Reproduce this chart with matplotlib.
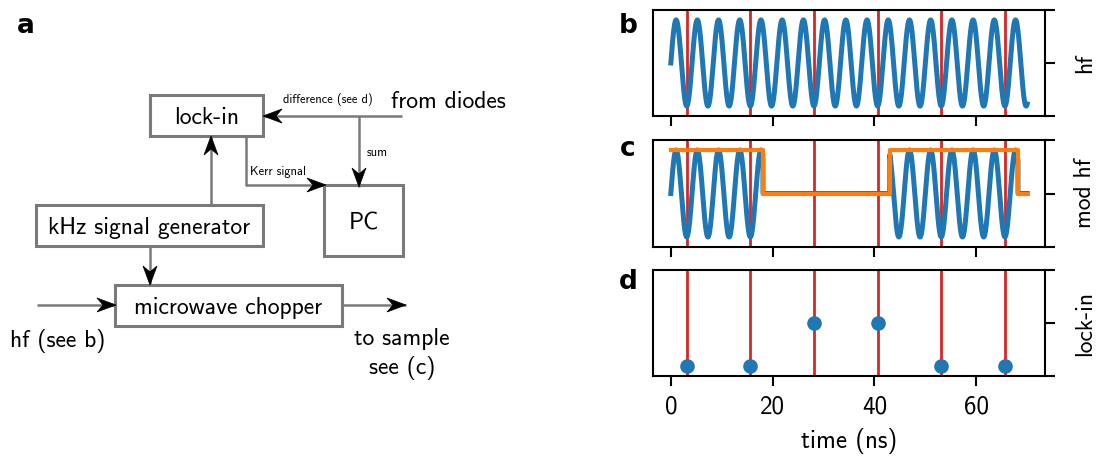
import numpy as np
import matplotlib.pyplot as plt
from matplotlib.patches import Rectangle, Polygon

plt.rcParams['font.family'] = ['cmss10', 'DejaVu Sans']
plt.rcParams['axes.unicode_minus'] = False

# carrier / chopper / lock-in data (ns)
t_end = 70.0
hf_period = 4.1667
sample_times = [3.125, 15.625, 28.125, 40.625, 53.125, 65.625]
lockin_values = [-1, -1, 0, 0, -1, -1]
gate_edges = [0.0, 18.1, 43.0, 68.2, 70.2]
gate_levels = [1, 0, 1, 0]
xticks = [0, 20, 40, 60]
ylim = 1.23

t = np.linspace(0, t_end, 3000)
hf = np.sin(2 * np.pi * t / hf_period)
idx = np.clip(np.searchsorted(gate_edges, t, side='right') - 1, 0, len(gate_levels) - 1)
gate = np.array(gate_levels)[idx]
mod_hf = hf * gate

W, H = 1104, 459
fig = plt.figure(figsize=(W / 100, H / 100), dpi=100)

# ---- panel a: block diagram, drawn in pixel coordinates
ax0 = fig.add_axes([0, 0, 1, 1])
ax0.set_xlim(0, W)
ax0.set_ylim(H, 0)
ax0.axis('off')

gray = '#7a7a7a'
fs = 17

boxes = [('lock-in', 150, 95, 263, 136),
         ('kHz signal generator', 36, 205, 263, 246),
         ('PC', 324, 185, 403, 256),
         ('microwave chopper', 115, 285, 342, 326)]
for label, x0, y0, x1, y1 in boxes:
    ax0.add_patch(Rectangle((x0, y0), x1 - x0, y1 - y0, fill=False, ec=gray, lw=2.2))
    ax0.text((x0 + x1) / 2, (y0 + y1) / 2, label, ha='center', va='center_baseline', fontsize=fs)


def arrow(pts):
    pts = np.array(pts, dtype=float)
    ax0.plot(pts[:, 0], pts[:, 1], color=gray, lw=1.8, solid_capstyle='butt')
    tip = pts[-1]
    u = tip - pts[-2]
    u /= np.hypot(*u)
    p = np.array([-u[1], u[0]])
    L, hw, notch = 19, 7, 6
    back = tip - L * u
    ax0.add_patch(Polygon([tip, back + hw * p, tip - (L - notch) * u, back - hw * p],
                          closed=True, fc='black', ec='black', lw=0.5, zorder=3))


arrow([(402, 116), (263, 116)])
arrow([(359, 116), (359, 187)])
arrow([(246, 136), (246, 185), (326, 185)])
arrow([(211, 205), (211, 136)])
arrow([(150, 246), (150, 285)])
arrow([(37, 305), (116, 305)])
arrow([(342, 305), (406, 305)])

ax0.text(25.5, 33, 'a', fontsize=19, fontweight='bold', family='DejaVu Sans', ha='center', va='baseline')
ax0.text(391, 100, 'from diodes', fontsize=fs, ha='left', va='center_baseline')
ax0.text(283, 98, 'difference (see d)', fontsize=9, ha='left', va='center_baseline')
ax0.text(367, 151, 'sum', fontsize=9, ha='left', va='center_baseline')
ax0.text(250, 171, 'Kerr signal', fontsize=9, ha='left', va='center_baseline')
ax0.text(10, 338, 'hf (see b)', fontsize=fs, ha='left', va='center_baseline')
ax0.text(402, 354, 'to sample\nsee (c)', fontsize=fs, ha='center', va='center',
         multialignment='center', linespacing=1.35)

# ---- panels b, c, d
left, right = 653, 1045
rows = [(10, 116), (140, 247), (270, 376)]
axes = []
for top, bot in rows:
    ax = fig.add_axes([left / W, 1 - bot / H, (right - left) / W, (bot - top) / H])
    axes.append(ax)
ax_b, ax_c, ax_d = axes

for ax in axes:
    for x in sample_times:
        ax.axvline(x, color='tab:red', lw=2, zorder=1)

ax_b.plot(t, hf, color='tab:blue', lw=3.6, zorder=2)
ax_c.plot(t, mod_hf, color='tab:blue', lw=3.6, zorder=2)
ax_c.step(gate_edges, gate_levels + [gate_levels[-1]], where='post', color='tab:orange', lw=3, zorder=3)
ax_d.plot(sample_times, lockin_values, 'o', color='tab:blue', ms=9.5, zorder=3)

ylabels = ['hf', 'mod hf', 'lock-in']
letters = [('b', 33), ('c', 156), ('d', 289)]
for ax, yl, (let, yb) in zip(axes, ylabels, letters):
    ax.set_xlim(-3.5, 73.5)
    ax.set_ylim(-ylim, ylim)
    ax.set_xticks(xticks)
    ax.set_yticks([-ylim, 0, ylim])
    ax.tick_params(axis='both', direction='out', length=7, width=1.5, labelsize=18, pad=7)
    ax.tick_params(axis='y', left=False, right=True, labelleft=False, labelright=False)
    ax.yaxis.set_label_position('right')
    ax.set_ylabel(yl, fontsize=fs, labelpad=14)
    for s in ax.spines.values():
        s.set_linewidth(1.5)
    ax0.text(628, yb, let, fontsize=19, fontweight='bold', family='DejaVu Sans', ha='center', va='baseline')

ax_b.tick_params(axis='x', labelbottom=False)
ax_c.tick_params(axis='x', labelbottom=False)
ax_d.set_xlabel('time (ns)', fontsize=18, labelpad=7)

fig.savefig('out.png', dpi=100)
